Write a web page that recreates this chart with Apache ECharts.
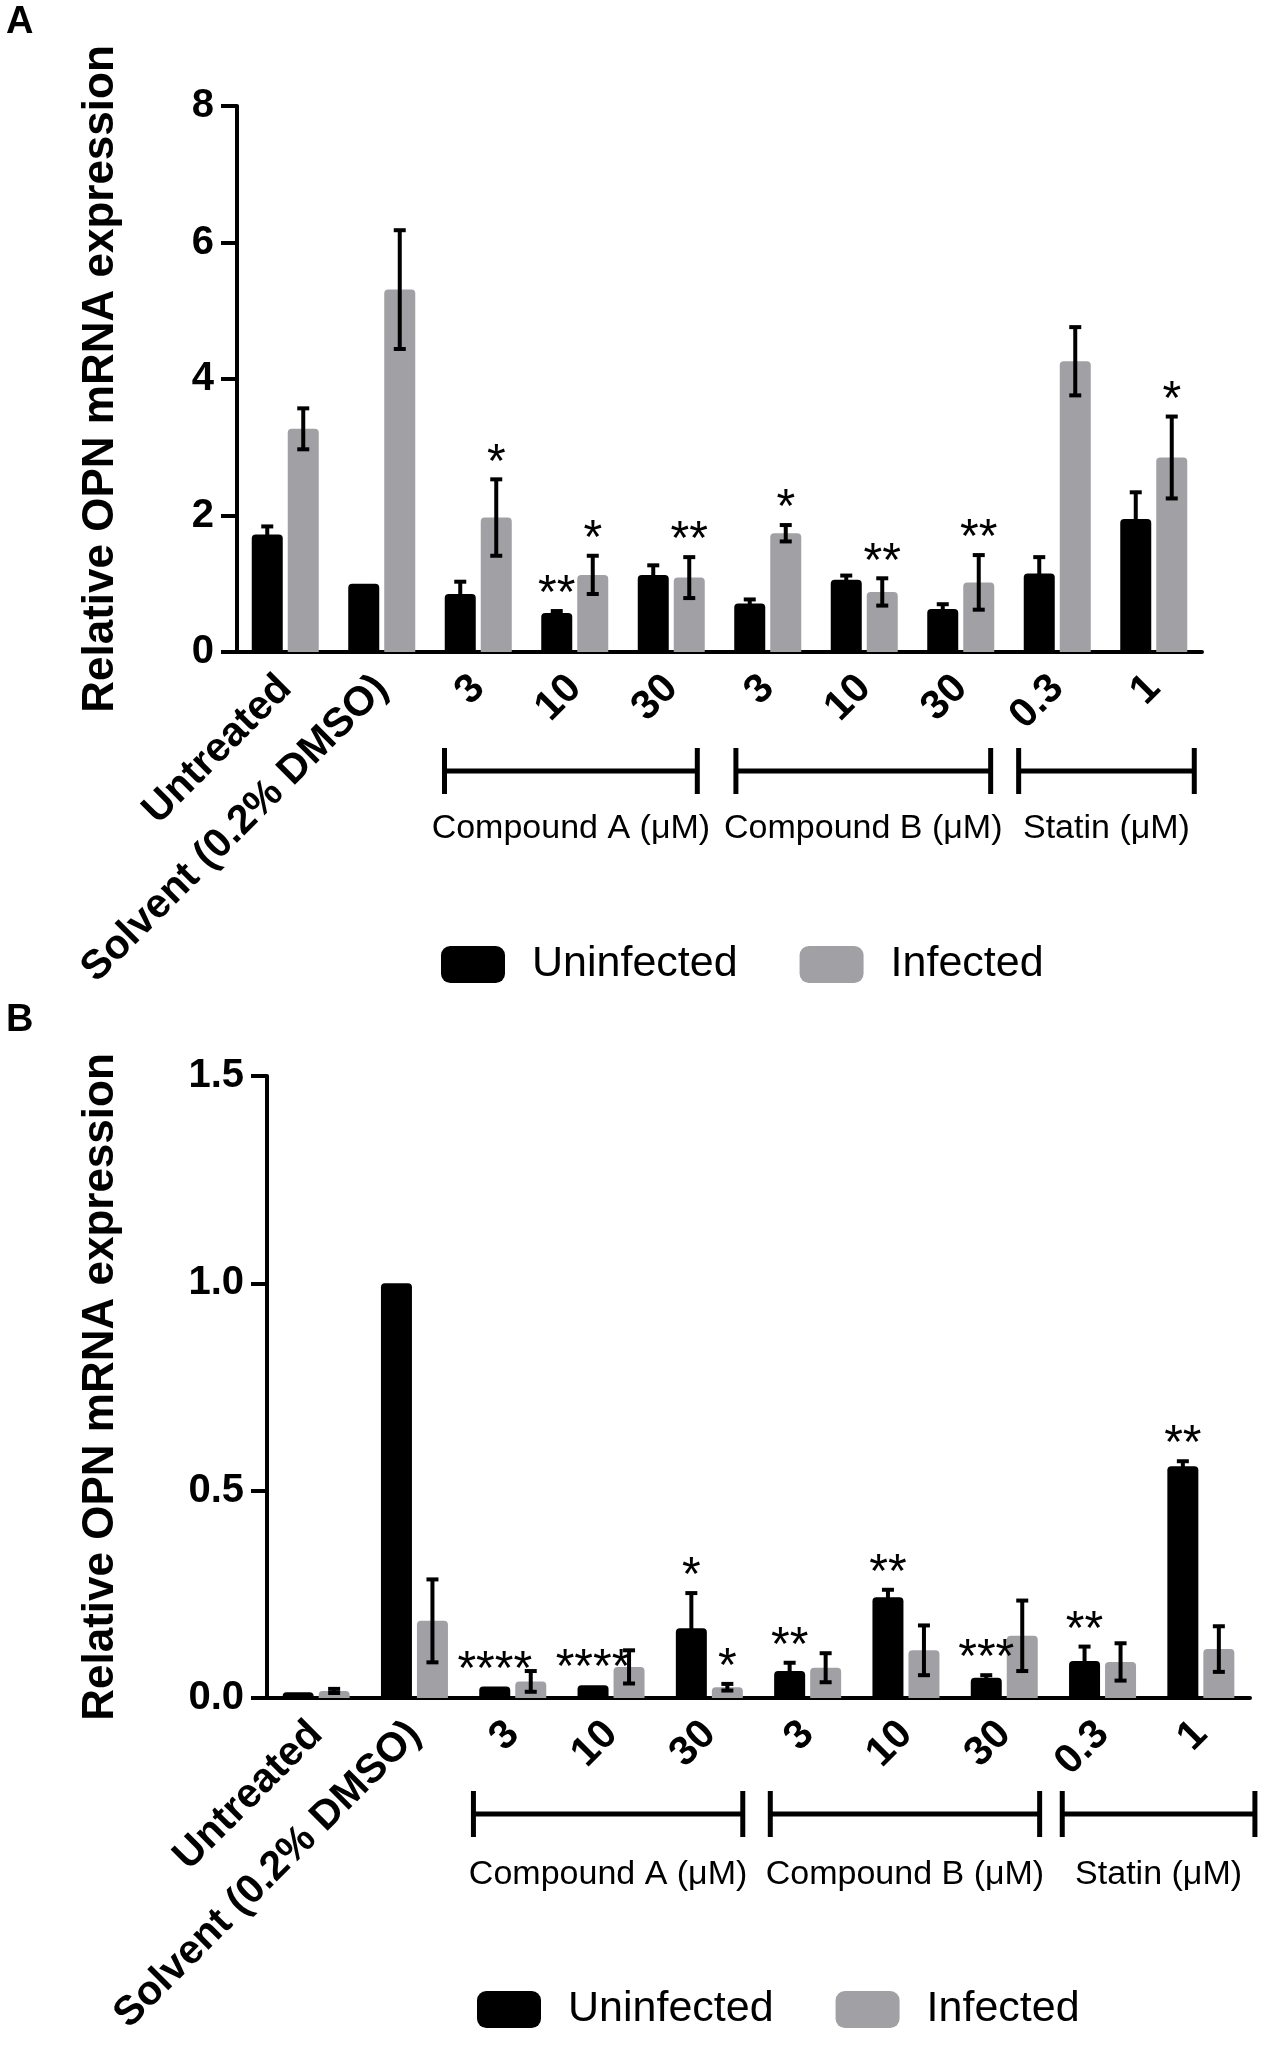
<!DOCTYPE html>
<html lang="en">
    <head>
        <meta charset="utf-8" />
        <title>Relative OPN mRNA expression</title>
        <style>
            * {
                margin: 0;
                padding: 0;
                box-sizing: border-box;
            }
            html,
            body {
                width: 100%;
                height: 100%;
                background: #fff;
            }
            #chart {
                width: 1267px;
                height: 2047px;
            }
        </style>
    </head>
    <body>
        <div id="chart"></div>
        <script src="https://cdn.jsdelivr.net/npm/echarts@6/dist/echarts.min.js"></script>
        <script>
            // categories and groups (same for both panels)
            const categories = ['Untreated', 'Solvent (0.2% DMSO)', '3', '10', '30', '3', '10', '30', '0.3', '1']
            const groupNames = ['Compound A (\u03bcM)', 'Compound B (\u03bcM)', 'Statin (\u03bcM)']
            const groupFrom = [2, 5, 8]
            const groupTo = [4, 7, 9]
            const legendNames = ['Uninfected', 'Infected']

            // panel A
            const uninfA = [1.72, 1.0, 0.85, 0.57, 1.13, 0.71, 1.06, 0.63, 1.15, 1.95]
            const uninfAErr = [0.12, 0, 0.18, 0.03, 0.14, 0.06, 0.06, 0.07, 0.24, 0.39]
            const infA = [3.27, 5.31, 1.97, 1.13, 1.09, 1.74, 0.88, 1.02, 4.26, 2.85]
            const infAErr = [0.3, 0.87, 0.56, 0.28, 0.3, 0.12, 0.2, 0.4, 0.5, 0.6]
            const starsUninfA = ['', '', '', '**', '', '', '', '', '', '']
            const starsInfA = ['', '', '*', '*', '**', '*', '**', '**', '', '*']
            const ticksA = { min: 0, max: 8, interval: 2 }

            // panel B
            const uninfB = [0.014, 1.0, 0.028, 0.031, 0.168, 0.065, 0.243, 0.049, 0.089, 0.559]
            const uninfBErr = [0, 0, 0, 0, 0.085, 0.02, 0.018, 0.006, 0.035, 0.012]
            const infB = [0.017, 0.186, 0.04, 0.075, 0.026, 0.073, 0.115, 0.15, 0.087, 0.118]
            const infBErr = [0.005, 0.1, 0.025, 0.04, 0.008, 0.035, 0.06, 0.085, 0.045, 0.055]
            const starsUninfB = ['', '', '****', '****', '*', '**', '**', '***', '**', '**']
            const starsInfB = ['', '', '', '', '*', '', '', '', '', '']
            const ticksB = { min: 0, max: 1.5, interval: 0.5 }

            const FONT = '"Liberation Sans", Arial, Helvetica, sans-serif'
            const GRAY = '#a1a1a5'
            const BAR_W = 31
            const BAR_GAP = 5

            const chart = echarts.init(document.getElementById('chart'), null, { renderer: 'canvas' })

            function xAxis(gridIndex) {
                return {
                    type: 'category',
                    gridIndex,
                    data: categories,
                    axisLine: { lineStyle: { color: '#000', width: 4 } },
                    axisTick: { alignWithLabel: true, length: 16, lineStyle: { color: '#000', width: 4 } },
                    axisLabel: {
                        interval: 0,
                        rotate: 45,
                        margin: 30,
                        color: '#000',
                        fontFamily: FONT,
                        fontWeight: 'bold',
                        fontSize: 41,
                    },
                    splitLine: { show: false },
                }
            }

            function yAxis(gridIndex, ticks, gap, digits) {
                return {
                    type: 'value',
                    gridIndex,
                    min: ticks.min,
                    max: ticks.max,
                    interval: ticks.interval,
                    name: 'Relative OPN mRNA expression',
                    nameLocation: 'middle',
                    nameRotate: 90,
                    nameGap: gap,
                    nameTextStyle: { color: '#000', fontFamily: FONT, fontWeight: 'bold', fontSize: 44 },
                    axisLine: { show: true, lineStyle: { color: '#000', width: 4 } },
                    axisTick: { show: true, length: 16, lineStyle: { color: '#000', width: 4 } },
                    axisLabel: {
                        margin: 23,
                        color: '#000',
                        fontFamily: FONT,
                        fontWeight: 'bold',
                        fontSize: 40,
                        formatter: (v) => v.toFixed(digits),
                    },
                    splitLine: { show: false },
                }
            }

            function barSeries(name, axis, values, color) {
                return {
                    type: 'bar',
                    name,
                    xAxisIndex: axis,
                    yAxisIndex: axis,
                    data: values,
                    barWidth: BAR_W,
                    barGap: (BAR_GAP / BAR_W) * 100 + '%',
                    itemStyle: { color, borderRadius: [4, 4, 0, 0] },
                    emphasis: { disabled: true },
                    silent: true,
                }
            }

            // error bars + significance stars, side -1 = left bar, +1 = right bar
            function errorSeries(axis, values, errs, stars, side) {
                return {
                    type: 'custom',
                    name: 'err' + axis + side,
                    xAxisIndex: axis,
                    yAxisIndex: axis,
                    z: 10,
                    silent: true,
                    encode: { x: 0, y: 1 },
                    data: values.map((v, i) => [i, v, errs[i]]),
                    renderItem(params, api) {
                        const idx = api.value(0)
                        const v = api.value(1)
                        const e = api.value(2)
                        const shift = (side * (BAR_W + BAR_GAP)) / 2
                        const top = api.coord([idx, v + e])
                        const bot = api.coord([idx, Math.max(v - e, 0)])
                        const cx = top[0] + shift
                        const style = { stroke: '#000', lineWidth: 4 }
                        const children = []
                        if (e > 0) {
                            children.push(
                                { type: 'line', shape: { x1: cx, y1: top[1], x2: cx, y2: bot[1] }, style },
                                { type: 'line', shape: { x1: cx - 6, y1: top[1], x2: cx + 6, y2: top[1] }, style },
                                { type: 'line', shape: { x1: cx - 6, y1: bot[1], x2: cx + 6, y2: bot[1] }, style }
                            )
                        }
                        const star = stars[params.dataIndex]
                        if (star) {
                            children.push({
                                type: 'text',
                                style: {
                                    text: star,
                                    x: cx,
                                    y: top[1] + 8,
                                    align: 'center',
                                    verticalAlign: 'bottom',
                                    font: '48px ' + FONT,
                                    fill: '#000',
                                },
                            })
                        }
                        return { type: 'group', children }
                    },
                }
            }

            function legend(left, top) {
                return {
                    left,
                    top,
                    data: legendNames,
                    icon: 'roundRect',
                    itemWidth: 64,
                    itemHeight: 37,
                    itemGap: 62,
                    selectedMode: false,
                    textStyle: { color: '#000', fontFamily: FONT, fontSize: 43, padding: [0, 0, 0, 22] },
                }
            }

            chart.setOption({
                animation: false,
                backgroundColor: '#fff',
                grid: [
                    { left: 237, top: 106, width: 965, height: 546, containLabel: false, outerBoundsMode: 'none' },
                    { left: 267, top: 1076, width: 983, height: 622, containLabel: false, outerBoundsMode: 'none' },
                ],
                xAxis: [xAxis(0), xAxis(1)],
                yAxis: [yAxis(0, ticksA, 114, 0), yAxis(1, ticksB, 144, 1)],
                legend: [legend(436, 938), legend(472, 1983)],
                series: [
                    barSeries('Uninfected', 0, uninfA, '#000'),
                    barSeries('Infected', 0, infA, GRAY),
                    barSeries('Uninfected', 1, uninfB, '#000'),
                    barSeries('Infected', 1, infB, GRAY),
                    errorSeries(0, uninfA, uninfAErr, starsUninfA, -1),
                    errorSeries(0, infA, infAErr, starsInfA, 1),
                    errorSeries(1, uninfB, uninfBErr, starsUninfB, -1),
                    errorSeries(1, infB, infBErr, starsInfB, 1),
                ],
            })

            // group brackets under the category labels, placed from the axis scale
            function brackets(gridIndex, below, labelBelow, padL, padR) {
                const out = []
                groupNames.forEach((name, g) => {
                    const a = chart.convertToPixel({ gridIndex }, [groupFrom[g], 0])
                    const b = chart.convertToPixel({ gridIndex }, [groupTo[g], 0])
                    const w = chart.convertToPixel({ gridIndex }, [1, 0])[0] - chart.convertToPixel({ gridIndex }, [0, 0])[0]
                    const x1 = a[0] - padL[g] * w
                    const x2 = b[0] + padR[g] * w
                    const y = a[1] + below
                    const style = { stroke: '#000', lineWidth: 5 }
                    out.push(
                        { type: 'line', shape: { x1, y1: y, x2, y2: y }, style },
                        { type: 'line', shape: { x1, y1: y - 23, x2: x1, y2: y + 23 }, style },
                        { type: 'line', shape: { x1: x2, y1: y - 23, x2, y2: y + 23 }, style },
                        {
                            type: 'text',
                            style: {
                                text: name,
                                x: (x1 + x2) / 2,
                                y: y + labelBelow,
                                align: 'center',
                                verticalAlign: 'middle',
                                font: '34px ' + FONT,
                                fill: '#000',
                            },
                        }
                    )
                })
                return out
            }

            chart.setOption({
                graphic: [
                    { type: 'text', left: 6, top: 4, style: { text: 'A', font: 'bold 38px ' + FONT, fill: '#000' } },
                    { type: 'text', left: 6, top: 1002, style: { text: 'B', font: 'bold 38px ' + FONT, fill: '#000' } },
                    ...brackets(0, 119, 58, [0.35, 0.33, 0.4], [0.27, 0.31, 0.42]),
                    ...brackets(1, 116, 61, [0.4, 0.38, 0.41], [0.34, 0.36, 0.55]),
                ],
            })
        </script>
    </body>
</html>
